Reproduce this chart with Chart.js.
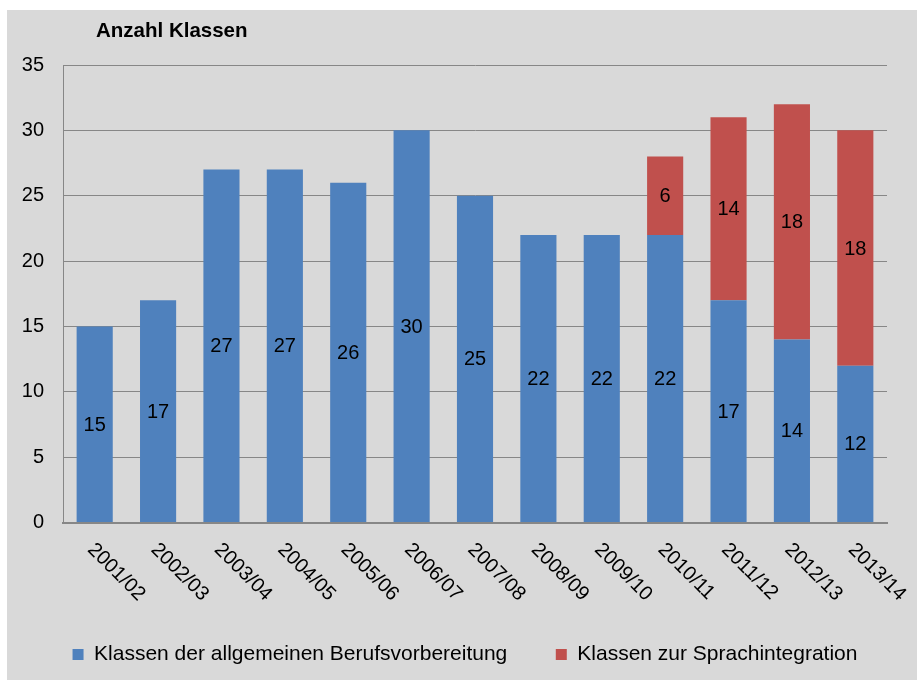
<!DOCTYPE html>
<html>
<head>
<meta charset="utf-8">
<script src="https://cdn.jsdelivr.net/npm/chart.js@4"></script>
<style>
    body { margin: 0; background: #fff; }
    #chart { position: absolute; left: 7px; top: 10px; }
</style>
</head>
<body>
<canvas id="chart" width="910" height="670"></canvas>
<script>
const schoolYears = ['2001/02', '2002/03', '2003/04', '2004/05', '2005/06', '2006/07', '2007/08',
    '2008/09', '2009/10', '2010/11', '2011/12', '2012/13', '2013/14'];
const generalClasses = [15, 17, 27, 27, 26, 30, 25, 22, 22, 22, 17, 14, 12];
const languageClasses = [null, null, null, null, null, null, null, null, null, 6, 14, 18, 18];
const yTicks = [0, 5, 10, 15, 20, 25, 30, 35];

const FONT = '"Liberation Sans", Arial, sans-serif';

// grey chart background + title
const backdrop = {
    id: 'backdrop',
    beforeDraw(chart) {
        const ctx = chart.ctx;
        ctx.save();
        ctx.fillStyle = '#d9d9d9';
        ctx.fillRect(0, 0, chart.width, chart.height);
        ctx.fillStyle = '#000';
        ctx.font = 'bold 20.5px ' + FONT;
        ctx.textBaseline = 'middle';
        ctx.fillText('Anzahl Klassen', 89, 21);
        ctx.restore();
    }
};

// legend sits a bit right of the plot centre in the original
const legendShift = {
    id: 'legendShift',
    afterLayout(chart) {
        chart.legend.left = 0;
        chart.legend.right = 916;
    }
};

// slanted category labels, reading downwards from the tick
const slantLabels = {
    id: 'slantLabels',
    afterDraw(chart) {
        const ctx = chart.ctx;
        const xs = chart.scales.x;
        ctx.save();
        ctx.fillStyle = '#000';
        ctx.font = '20px ' + FONT;
        ctx.textAlign = 'left';
        ctx.textBaseline = 'middle';
        schoolYears.forEach((lab, i) => {
            ctx.save();
            ctx.translate(xs.getPixelForValue(i) - 4, chart.chartArea.bottom + 24);
            ctx.rotate(Math.PI / 4);
            ctx.fillText(lab, 0, 0);
            ctx.restore();
        });
        ctx.restore();
    }
};

// numbers in the middle of each segment
const segmentValues = {
    id: 'segmentValues',
    afterDatasetsDraw(chart) {
        const ctx = chart.ctx;
        ctx.save();
        ctx.fillStyle = '#000';
        ctx.font = '20px ' + FONT;
        ctx.textAlign = 'center';
        ctx.textBaseline = 'middle';
        chart.data.datasets.forEach((ds, d) => {
            chart.getDatasetMeta(d).data.forEach((bar, i) => {
                if (!ds.data[i]) return;
                ctx.fillText(ds.data[i], bar.x, (bar.y + bar.base) / 2 + 1);
            });
        });
        ctx.restore();
    }
};

new Chart(document.getElementById('chart'), {
    type: 'bar',
    data: {
        labels: schoolYears,
        datasets: [
            { label: 'Klassen der allgemeinen Berufsvorbereitung', data: generalClasses,
              backgroundColor: '#4f81bd', borderWidth: 0 },
            { label: 'Klassen zur Sprachintegration', data: languageClasses,
              backgroundColor: '#c0504d', borderWidth: 0 }
        ]
    },
    options: {
        responsive: false,
        animation: false,
        events: [],
        layout: { padding: { left: 0, right: 0, top: 55, bottom: 5 } },
        datasets: { bar: { categoryPercentage: 1, barPercentage: 0.57 } },
        scales: {
            x: {
                stacked: true,
                grid: { display: false, drawTicks: false },
                border: { color: '#878787', width: 2 },
                ticks: { display: false },
                afterFit(scale) { scale.height = 73; }
            },
            y: {
                stacked: true,
                min: 0,
                max: 35,
                afterBuildTicks(scale) { scale.ticks = yTicks.map(v => ({ value: v })); },
                grid: { color: '#878787', lineWidth: 1, drawTicks: false },
                border: { color: '#878787', width: 1 },
                ticks: { color: '#000', font: { family: FONT, size: 20 }, padding: 19 },
                afterFit(scale) { scale.width = 56; }
            },
            // empty right-hand spacer so the legend keeps the full width
            spacer: {
                position: 'right',
                grid: { display: false, drawTicks: false },
                border: { display: false },
                ticks: { display: false },
                afterFit(scale) { scale.width = 30; }
            }
        },
        plugins: {
            legend: {
                position: 'bottom',
                labels: {
                    color: '#000',
                    font: { family: FONT, size: 21 },
                    boxWidth: 11,
                    boxHeight: 11,
                    padding: 48.5
                }
            },
            tooltip: { enabled: false }
        }
    },
    plugins: [backdrop, legendShift, slantLabels, segmentValues]
});
</script>
</body>
</html>
